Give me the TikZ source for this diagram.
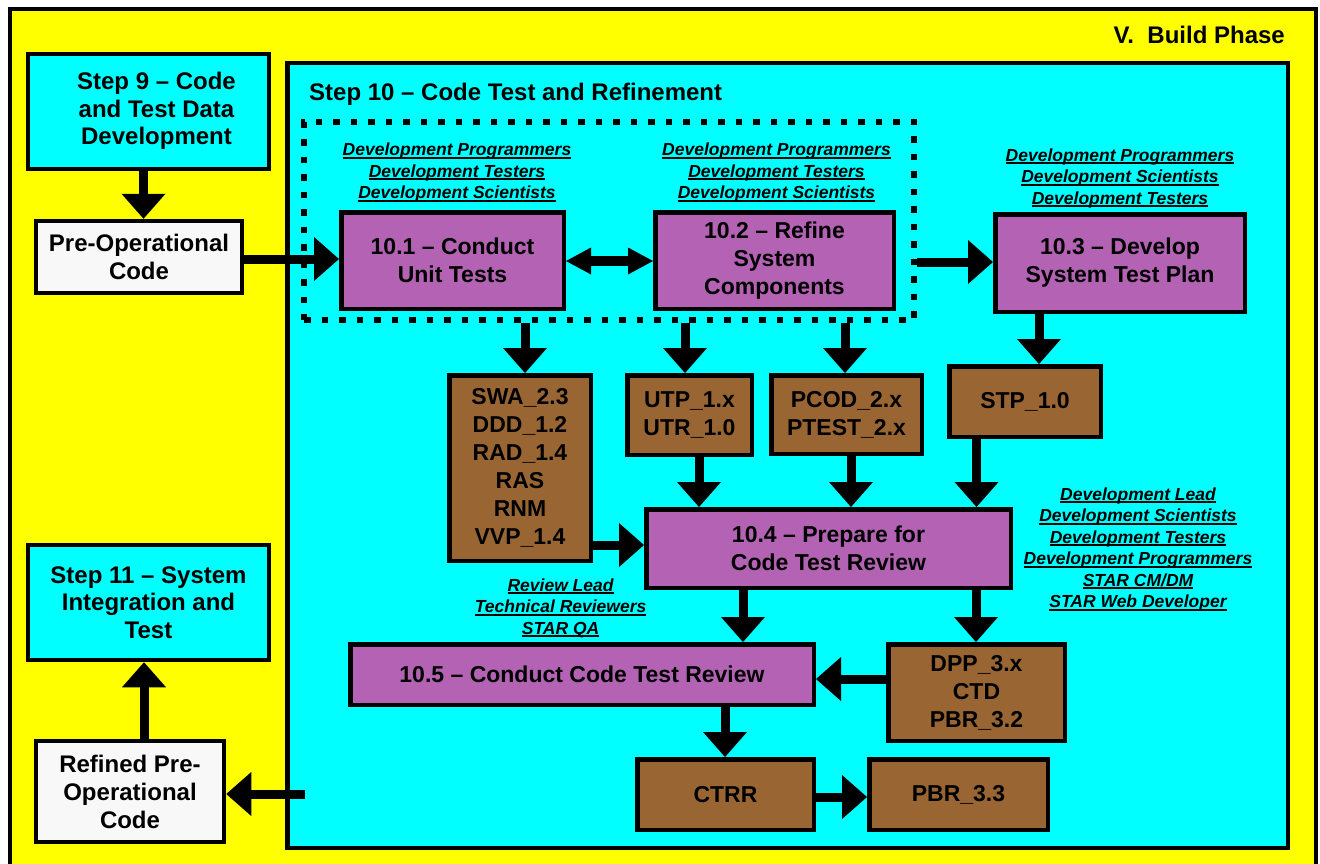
\documentclass[tikz,border=0pt]{standalone}
\usepackage{fontspec}
\setmainfont{Liberation Sans}
\usetikzlibrary{arrows.meta}
\definecolor{yel}{HTML}{FFFF00}
\definecolor{cya}{HTML}{00FFFF}
\definecolor{pur}{HTML}{B462B4}
\definecolor{brn}{HTML}{996633}
\definecolor{wht}{HTML}{F8F8F8}
\newsavebox\rlbox
\newcommand\rl[1]{\sbox\rlbox{#1}\rlap{\rule[-3.3pt]{\wd\rlbox}{2pt}}\usebox\rlbox}
\tikzset{
  box/.style={draw=black, line width=4.5pt, inner sep=0pt, align=center,
    font=\bfseries\fontsize{23}{28}\selectfont},
  stepbox/.style={box, fill=cya, font=\bfseries\fontsize{24}{27.5}\selectfont},
  codebox/.style={box, fill=wht, font=\bfseries\fontsize{24}{28}\selectfont},
  task/.style={box, fill=pur},
  prod/.style={box, fill=brn},
  roles/.style={inner sep=0pt, align=center, anchor=north,
    font=\bfseries\itshape\fontsize{17.5}{21.5}\selectfont},
  ttlfont/.style={inner sep=0pt, font=\bfseries\fontsize{24}{28}\selectfont},
  arr/.style={line width=9pt, -{Triangle[width=44pt,length=25pt,line width=0pt]}},
  darr/.style={line width=10pt,
    {Triangle[width=27pt,length=25pt,line width=0pt]}-{Triangle[width=27pt,length=25pt,line width=0pt]}},
}
\begin{document}
\begin{tikzpicture}[x=1pt,y=-1pt]
\useasboundingbox (0,0) rectangle (1320,863);
\fill[white] (0,0) rectangle (1320,863);
\draw[line width=4pt, fill=yel] (9.5,8.5) rectangle (1315.5,880);
\node[ttlfont, anchor=base east] (phase) at (1285,43) {V.~~Build Phase};

% Step 10 container
\node[draw=black, line width=4.5pt, fill=cya, inner sep=0pt,
  minimum width=1000.5pt, minimum height=785pt] (s10) at (787.75,455.5) {};
\node[ttlfont, anchor=base west] (s10t) at (309,100) {Step 10 – Code Test and Refinement};

% dotted group
\node[draw=black, line width=6.5pt, dash pattern=on 6.5pt off 11pt, inner sep=0pt,
  minimum width=610pt, minimum height=198pt] (grp) at (609,221) {};

% left column
\node[stepbox, minimum width=241pt, minimum height=115pt] (step9) at (148.5,111.5)
  {\begin{tabular}{@{\hspace{16pt}}c@{}}Step 9 – Code\\and Test Data\\Development\end{tabular}};
\node[codebox, minimum width=206pt, minimum height=72pt] (preop) at (139,257)
  {Pre-Operational\\Code};
\node[stepbox, minimum width=241pt, minimum height=115pt] (step11) at (148.5,602.5)
  {Step 11 – System\\Integration and\\Test};
\node[codebox, minimum width=188pt, minimum height=101pt] (refined) at (130,791.5)
  {Refined Pre-\\Operational\\Code};

% tasks
\node[task, minimum width=222.5pt, minimum height=96.5pt] (t101) at (452.5,260.5)
  {10.1 – Conduct\\Unit Tests};
\node[task, minimum width=238.5pt, minimum height=96.5pt] (t102) at (774.5,260.5)
  {10.2 – Refine\\System\\Components};
\node[task, minimum width=249.5pt, minimum height=97.5pt] (t103) at (1120,263)
  {10.3 – Develop\\System Test Plan};
\node[task, minimum width=364.5pt, minimum height=78.5pt] (t104) at (828.5,548.5)
  {10.4 – Prepare for\\Code Test Review};
\node[task, minimum width=463.5pt, minimum height=60.5pt] (t105) at (582,674.5)
  {10.5 – Conduct Code Test Review};

% products
\node[prod, minimum width=141.5pt, minimum height=185.5pt] (swa) at (520,468)
  {SWA\_2.3\\DDD\_1.2\\RAD\_1.4\\RAS\\RNM\\VVP\_1.4};
\node[prod, minimum width=124.5pt, minimum height=79.5pt] (utp) at (689.5,415)
  {UTP\_1.x\\UTR\_1.0};
\node[prod, minimum width=150.5pt, minimum height=78.5pt] (pcod) at (846.5,414.5)
  {PCOD\_2.x\\PTEST\_2.x};
\node[prod, minimum width=151.5pt, minimum height=70.5pt] (stp) at (1025,401.5)
  {STP\_1.0};
\node[prod, minimum width=176.5pt, minimum height=96.5pt] (dpp) at (976.5,692.5)
  {DPP\_3.x\\CTD\\PBR\_3.2};
\node[prod, minimum width=176.5pt, minimum height=70.5pt] (ctrr) at (725.5,794.5)
  {CTRR};
\node[prod, minimum width=178.5pt, minimum height=70.5pt] (pbr) at (958.5,794.5)
  {PBR\_3.3};

% roles
\node[roles] (r1) at (457,142.7)
  {\rl{Development Programmers}\\\rl{Development Testers}\\\rl{Development Scientists}};
\node[roles] (r2) at (776.5,142.7)
  {\rl{Development Programmers}\\\rl{Development Testers}\\\rl{Development Scientists}};
\node[roles] (r3) at (1120,148.2)
  {\rl{Development Programmers}\\\rl{Development Scientists}\\\rl{Development Testers}};
\node[roles] (r4) at (1138,487.2)
  {\rl{Development Lead}\\\rl{Development Scientists}\\\rl{Development Testers}\\\rl{Development Programmers}\\\rl{STAR CM/DM}\\\rl{STAR Web Developer}};
\node[roles] (r5) at (560.6,578.2)
  {\rl{Review Lead}\\\rl{Technical Reviewers}\\\rl{STAR QA}};

% connectors
\draw[arr] (step9.south -| 143.5,0) -- (preop.north -| 143.5,0);
\draw[arr] (preop.east |- 0,259) -- (t101.west |- 0,259);
\draw[darr] (t101.east |- 0,261) -- (t102.west |- 0,261);
\draw[arr] (grp.east |- 0,262) -- (t103.west |- 0,262);
\draw[arr] (grp.south -| 525,0) -- (swa.north -| 525,0);
\draw[arr] (grp.south -| 685,0) -- (utp.north -| 685,0);
\draw[arr] (grp.south -| 845,0) -- (pcod.north -| 845,0);
\draw[arr] (t103.south -| 1039,0) -- (stp.north -| 1039,0);
\draw[arr] (utp.south -| 699,0) -- (t104.north -| 699,0);
\draw[arr] (pcod.south -| 851,0) -- (t104.north -| 851,0);
\draw[arr] (stp.south -| 976.5,0) -- (t104.north -| 976.5,0);
\draw[arr] (swa.east |- 0,545) -- (t104.west |- 0,545);
\draw[arr] (t104.south -| 743,0) -- (t105.north -| 743,0);
\draw[arr] (t104.south -| 976,0) -- (dpp.north -| 976,0);
\draw[arr] (dpp.west |- 0,679) -- (t105.east |- 0,679);
\draw[arr] (t105.south -| 725,0) -- (ctrr.north -| 725,0);
\draw[arr] (ctrr.east |- 0,797) -- (pbr.west |- 0,797);
\coordinate (ret) at (305,794);
\draw[arr] (ret) -- (refined.east |- ret);
\draw[arr] (refined.north -| 144,0) -- (step11.south -| 144,0);
\end{tikzpicture}
\end{document}
